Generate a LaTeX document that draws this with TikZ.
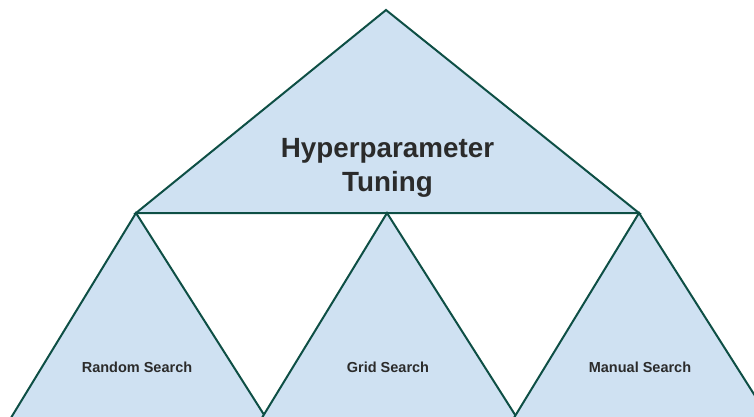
\documentclass[tikz,border=0pt]{standalone}
\usepackage{fontspec}
\setmainfont{Liberation Sans}
\definecolor{edge}{HTML}{0E4F45}
\definecolor{panel}{HTML}{CFE1F2}
\definecolor{ink}{HTML}{2B2B2B}
\begin{document}
\begin{tikzpicture}[x=1pt,y=-1pt,
  tri/.style={fill=panel,draw=edge,line width=2pt,line join=miter},
  bigtext/.style={text=ink,font=\bfseries\fontsize{27.8}{34}\selectfont,align=center},
  smalltext/.style={text=ink,font=\bfseries\fontsize{14.5}{17}\selectfont}]
\useasboundingbox (0,0) rectangle (754,416);
\clip (0,0) rectangle (754,416);
% corner points
\coordinate (top) at (386,10);
\coordinate (L) at (136,213);
\coordinate (M) at (387,213);
\coordinate (R) at (639,213);
% upper triangle
\draw[tri] (top) -- (L) -- (R) -- cycle;
% lower triangles, running past the lower edge
\draw[tri] (L) -- ++(-152,249) -- ++(310,0) -- cycle;
\draw[tri] (M) -- ++(-152,249) -- ++(310,0) -- cycle;
\draw[tri] (R) -- ++(-152,249) -- ++(310,0) -- cycle;
% labels
\node[bigtext] (main) at (387.5,168) {Hyperparameter\\Tuning};
\node[smalltext] (rand) at (137,367) {Random Search};
\node[smalltext] (grid) at (388,367) {Grid Search};
\node[smalltext] (man) at (640,367) {Manual Search};
\end{tikzpicture}
\end{document}
